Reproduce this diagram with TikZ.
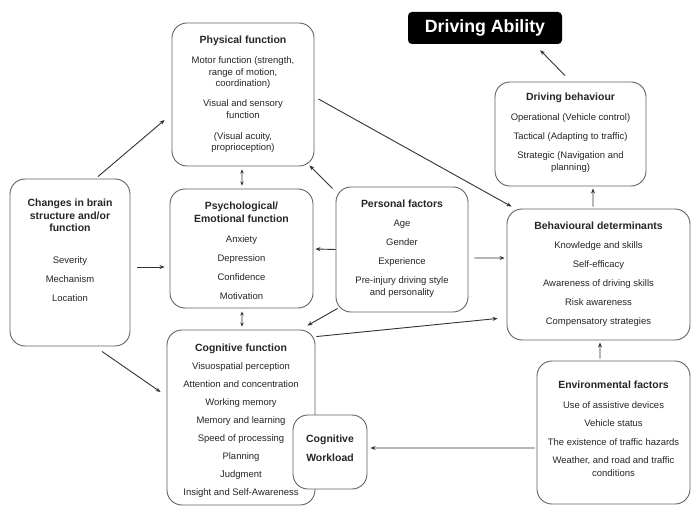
\documentclass[tikz,border=0pt]{standalone}
\usepackage{fontspec}
\setmainfont{Liberation Sans}
\usetikzlibrary{calc,arrows.meta}
\newcommand\hd[1]{{\fontsize{10.5}{12.5}\selectfont\bfseries #1}}
\begin{document}
\begin{tikzpicture}[x=1bp,y=-1bp,
  box/.style={draw=black!62, line width=0.9bp, rounded corners=15bp, fill=white, inner sep=0},
  txt/.style={anchor=north, inner sep=0, align=center, text=black!85, font=\fontsize{9.5}{11.5}\selectfont},
  arr/.style={draw=black!80, line width=0.9bp, -{Stealth[length=5bp,width=4bp]}},
  darr/.style={draw=black!80, line width=0.9bp, {Stealth[length=4bp,width=3.5bp]}-{Stealth[length=4bp,width=3.5bp]}}]
\useasboundingbox (0,0) rectangle (692,509);
\fill[white] (0,0) rectangle (692,509);

% boxes
\node[fill=black, rounded corners=4bp, minimum width=154bp, minimum height=32bp, text=white,
      font=\bfseries\fontsize{17.8}{20}\selectfont] (da) at (485,28) {Driving Ability};
\node[box, minimum width=151bp, minimum height=104bp] (db) at (570.5,134) {};
\node[box, minimum width=142bp, minimum height=143bp] (phys) at (243,94.5) {};
\node[box, minimum width=120bp, minimum height=167bp] (chg) at (70,262.5) {};
\node[box, minimum width=143bp, minimum height=119bp] (psy) at (241.5,248.5) {};
\node[box, minimum width=132bp, minimum height=125bp] (pers) at (402,249.5) {};
\node[box, minimum width=183bp, minimum height=131bp] (beh) at (598.5,274.5) {};
\node[box, minimum width=148bp, minimum height=175bp] (cog) at (241,417.5) {};
\node[box, minimum width=74bp, minimum height=74bp] (cw) at (330,452) {};
\node[box, minimum width=153bp, minimum height=143bp] (env) at (613.5,432.5) {};

% texts
\node[txt] (physT) at ($(phys.north)+(0,13.5)$) {\hd{Physical function}\\[8.5bp]
  Motor function (strength,\\ range of motion,\\ coordination)\\[8.5bp]
  Visual and sensory\\ function\\[9.5bp] (Visual acuity,\\ proprioception)};
\node[txt] (chgT) at ($(chg.north)+(0,20.5)$) {\hd{Changes in brain}\\[1bp]\hd{structure and/or}\\[1bp]\hd{function}\\[20.5bp]
  Severity\\[7.5bp] Mechanism\\[7.5bp] Location};
\node[txt] (psyT) at ($(psy.north)+(0,13.5)$) {\hd{Psychological/}\\[1bp]\hd{Emotional function}\\[8.5bp]
  Anxiety\\[7.5bp] Depression\\[7.5bp] Confidence\\[7.5bp] Motivation};
\node[txt] (persT) at ($(pers.north)+(0,13.5)$) {\hd{Personal factors}\\[7.5bp]
  Age\\[7.5bp] Gender\\[7.5bp] Experience\\[7.5bp] Pre-injury driving style\\[0.5bp] and personality};
\node[txt] (dbT) at ($(db.north)+(0,11.5)$) {\hd{Driving behaviour}\\[8.5bp]
  Operational (Vehicle control)\\[7.5bp] Tactical (Adapting to traffic)\\[7.5bp] Strategic (Navigation and\\ planning)};
\node[txt] (behT) at ($(beh.north)+(0,13.5)$) {\hd{Behavioural determinants}\\[7.5bp]
  Knowledge and skills\\[7.5bp] Self-efficacy\\[7.5bp] Awareness of driving skills\\[7.5bp] Risk awareness\\[7.5bp] Compensatory strategies};
\node[txt] (cogT) at ($(cog.north)+(0,14.5)$) {\hd{Cognitive function}\\[6.5bp]
  Visuospatial perception\\[6.5bp] Attention and concentration\\[6.5bp] Working memory\\[6.5bp]
  Memory and learning\\[6.5bp] Speed of processing\\[6.5bp] Planning\\[6.5bp] Judgment\\[6.5bp] Insight and Self-Awareness};
\node[txt] (cwT) at ($(cw.north)+(0,20.5)$) {\hd{Cognitive}\\[7.5bp]\hd{Workload}};
\node[txt] (envT) at ($(env.north)+(0,20.5)$) {\hd{Environmental factors}\\[8.5bp]
  Use of assistive devices\\[6.5bp] Vehicle status\\[7.5bp] The existence of traffic hazards\\[6.5bp]
  Weather, and road and traffic\\[1.5bp] conditions};

% connectors
\draw[arr] ($(chg.north)+(28,-2)$) -- ($(phys.west)+(-7,25.5)$);
\draw[arr] ($(chg.east)+(7,4.5)$) -- ($(psy.west)+(-5,18.5)$);
\draw[arr] ($(chg.south)+(32,5)$) -- ($(cog.west)+(-6,-25.5)$);
\draw[darr] ($(phys.south)+(-1,3)$) -- ($(psy.north)+(0.5,-3)$);
\draw[arr] ($(pers.north west)+(-3,2)$) -- ($(phys.south east)+(-5,-1)$);
\draw[arr] ($(phys.east)+(4,4.5)$) -- ($(beh.north west)+(5,-2)$);
\draw[arr] (pers.west) -- ($(psy.east)+(2,0.5)$);
\draw[arr] ($(pers.east)+(6,8.5)$) -- ($(beh.west)+(-2,-16.5)$);
\draw[darr] ($(psy.south)+(0.5,3)$) -- ($(cog.north)+(1,-3)$);
\draw[arr] ($(pers.south west)+(2,-4)$) -- ($(cog.north east)+(-8,-4)$);
\draw[arr] ($(cog.north east)+(1,7)$) -- ($(beh.south west)+(-9,-22)$);
\draw[arr] ($(beh.north)+(-5.5,-2)$) -- ($(db.south)+(22.5,2)$);
\draw[arr] ($(env.north)+(-13.5,-2)$) -- ($(beh.south)+(1.5,2)$);
\draw[arr] ($(env.west)+(-2,15.5)$) -- ($(cw.east)+(3,-4)$);
\draw[arr] ($(db.north)+(-5.5,-6)$) -- ($(da.south east)+(-22,6)$);
\end{tikzpicture}
\end{document}
